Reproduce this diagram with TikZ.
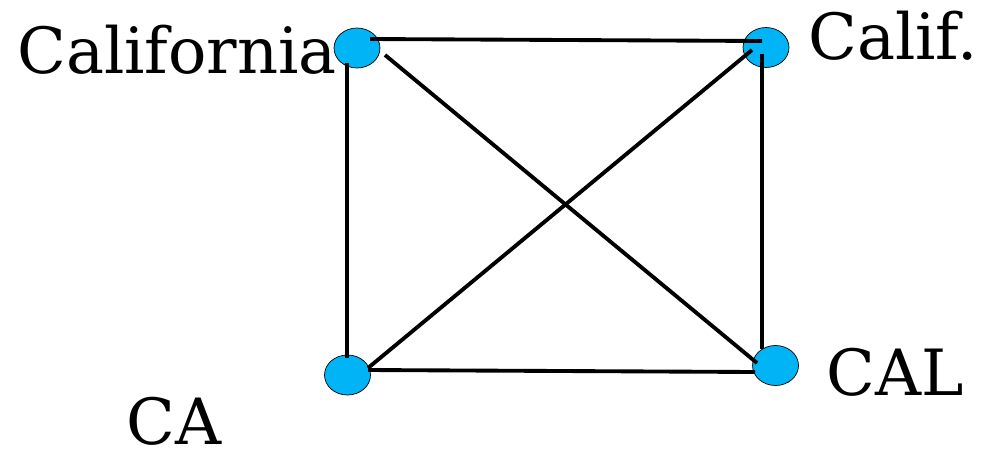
\documentclass[tikz,border=0pt]{standalone}
\usepackage{fontspec}
\setmainfont{DejaVu Serif}
\usepackage{xcolor}
\usetikzlibrary{shapes.geometric,calc}
\definecolor{dotc}{HTML}{00B4F5}
\tikzset{
  vert/.style={ellipse,draw=black,fill=dotc,line width=0.4pt,inner sep=0pt,minimum width=0.92cm,minimum height=0.8cm},
  link/.style={draw=black,line width=2.2pt},
  vlabel/.style={anchor=base west,inner sep=0pt,font=\fontsize{36.3}{40}\selectfont},
}
\begin{document}
\begin{tikzpicture}[x=0.02cm,y=-0.02cm]
  \useasboundingbox (0,0) rectangle (982,450);
  \node[vert] (california) at (357,48)    {};
  \node[vert] (calif)      at (766,47.5)  {};
  \node[vert] (ca)         at (347.5,375) {};
  \node[vert] (cal)        at (775.5,365.5) {};
  \node[vlabel] (lcalifornia) at (17,73)  {California};
  \node[vlabel] (lcalif)      at (808,59) {Calif.};
  \node[vlabel] (lca)         at (126,444) {CA};
  \node[vlabel] (lcal)        at (826,395) {CAL};
  % edges sit on top of the dots
  \draw[link] ($(california)+(13,-9)$) -- ($(calif)+(-4,-6.5)$);
  \draw[link] ($(california)+(-10,15)$) -- ($(ca)+(-0.5,-17)$);
  \draw[link] ($(california)+(28,7)$) -- ($(cal)+(-18.5,-2.5)$);
  \draw[link] ($(calif)+(-4,6.5)$) -- ($(cal)+(-13.5,-16.5)$);
  \draw[link] ($(ca)+(20.5,-7)$) -- ($(calif)+(-14,2.5)$);
  \draw[link] ($(ca)+(20.5,-5)$) -- ($(cal)+(-20.5,6.5)$);
\end{tikzpicture}
\end{document}
